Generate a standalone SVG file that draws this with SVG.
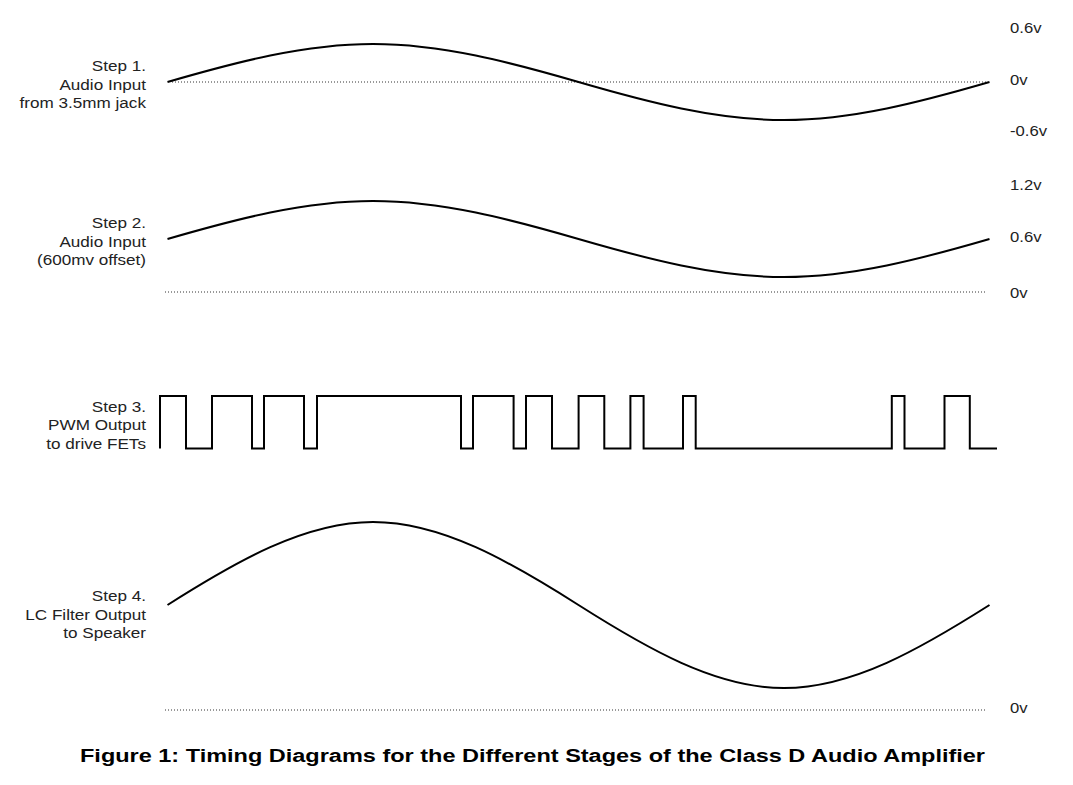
<svg xmlns="http://www.w3.org/2000/svg" width="1073" height="785" viewBox="0 0 1073 785">
<style>
.bg{fill:#ffffff}
.wave{fill:none;stroke:#000;stroke-width:2;stroke-linejoin:miter}
.dot{fill:none;stroke:#333;stroke-width:1;stroke-dasharray:1 2}
.lbl{font-family:"Liberation Sans",Arial,sans-serif;font-size:14.5px;fill:#222}
.l{text-anchor:end}
.title{font-family:"Liberation Sans",Arial,sans-serif;font-size:17.5px;font-weight:bold;fill:#000;text-anchor:middle}
</style>
<rect class="bg" x="0" y="0" width="1073" height="785"/>

<g id="step1">
  <line class="dot" x1="172" y1="82" x2="987" y2="82"/>
  <path class="wave" d="M167.5,82 C236,62.1 304.5,44 373,44 C441.5,44 510,62.1 578.5,82 C647,101.9 715.5,120 784,120 C852.5,120 921,101.9 989.5,82"/>
  <g transform="scale(1.18,1)">
    <text class="lbl l" x="123.7" y="71.5">Step 1.</text>
    <text class="lbl l" x="123.7" y="90">Audio Input</text>
    <text class="lbl l" x="123.7" y="108.5">from 3.5mm jack</text>
  </g>
  <g transform="scale(1.15,1)">
    <text class="lbl" x="878.3" y="33">0.6v</text>
    <text class="lbl" x="878.3" y="85">0v</text>
    <text class="lbl" x="878.3" y="136">-0.6v</text>
  </g>
</g>

<g id="step2">
  <line class="dot" x1="165" y1="292" x2="987" y2="292"/>
  <path class="wave" d="M167.5,239 C236,219.1 304.5,201 373,201 C441.5,201 510,219.1 578.5,239 C647,258.9 715.5,277 784,277 C852.5,277 921,258.9 989.5,239"/>
  <g transform="scale(1.18,1)">
    <text class="lbl l" x="123.7" y="228.5">Step 2.</text>
    <text class="lbl l" x="123.7" y="247">Audio Input</text>
    <text class="lbl l" x="123.7" y="265.5">(600mv offset)</text>
  </g>
  <g transform="scale(1.15,1)">
    <text class="lbl" x="878.3" y="190">1.2v</text>
    <text class="lbl" x="878.3" y="242">0.6v</text>
    <text class="lbl" x="878.3" y="298">0v</text>
  </g>
</g>

<g id="step3">
  <path class="wave" d="M160,448.5 V396 H186 V448.5 H212 V396 H252 V448.5 H264 V396 H304 V448.5 H317 V396 H461 V448.5 H473 V396 H513.6 V448.5 H526 V396 H552 V448.5 H578.6 V396 H604.3 V448.5 H630.4 V396 H643.6 V448.5 H683 V396 H695.7 V448.5 H891.8 V396 H904.5 V448.5 H944.5 V396 H969.8 V448.5 H997"/>
  <g transform="scale(1.18,1)">
    <text class="lbl l" x="123.7" y="412">Step 3.</text>
    <text class="lbl l" x="123.7" y="430.5">PWM Output</text>
    <text class="lbl l" x="123.7" y="449">to drive FETs</text>
  </g>
</g>

<g id="step4">
  <line class="dot" x1="165" y1="710" x2="987" y2="710"/>
  <path class="wave" d="M167.5,605 C236,561.5 304.5,522 373,522 C441.5,522 510,561.5 578.5,605 C647,648.5 715.5,688 784,688 C852.5,688 921,648.5 989.5,605"/>
  <g transform="scale(1.18,1)">
    <text class="lbl l" x="123.7" y="601.5">Step 4.</text>
    <text class="lbl l" x="123.7" y="620">LC Filter Output</text>
    <text class="lbl l" x="123.7" y="638.5">to Speaker</text>
  </g>
  <g transform="scale(1.15,1)">
    <text class="lbl" x="878.3" y="713">0v</text>
  </g>
</g>

<g id="connectors"></g>

<text id="caption" class="title" x="532.5" y="762" textLength="905" lengthAdjust="spacingAndGlyphs">Figure 1: Timing Diagrams for the Different Stages of the Class D Audio Amplifier</text>
</svg>
